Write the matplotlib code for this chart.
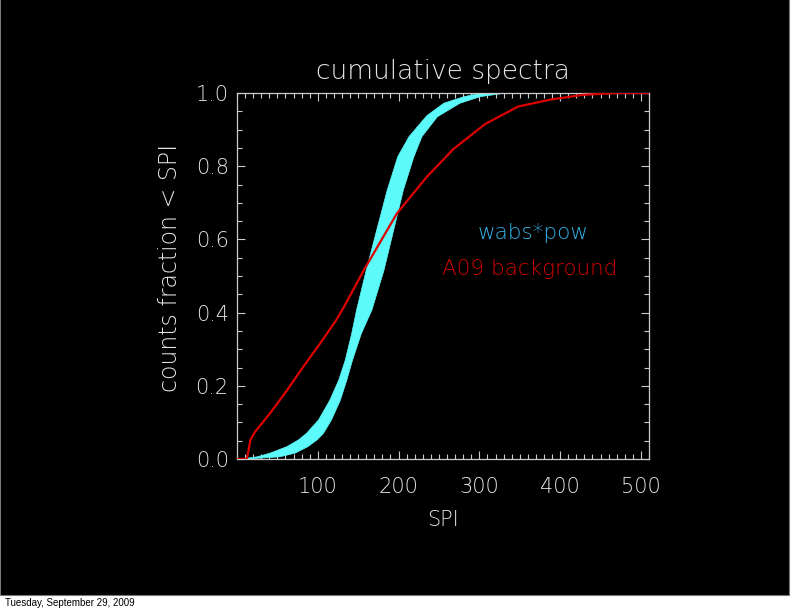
import matplotlib
matplotlib.use("Agg")
import matplotlib.pyplot as plt
from matplotlib.patches import Rectangle
from matplotlib.ticker import MultipleLocator, FixedLocator

# ---- data ----
band_left_x = [5, 25, 41, 62, 76, 86, 101, 115, 126, 134, 142, 148, 160, 173, 186, 199, 213, 235, 256, 281, 301, 510]
band_left_y = [0.0, 0.006, 0.016, 0.034, 0.052, 0.07, 0.107, 0.161, 0.216, 0.27, 0.343, 0.407, 0.516, 0.626, 0.735, 0.826, 0.881, 0.938, 0.972, 0.99, 0.999, 1.0]
band_right_x = [12, 53, 72, 88, 99, 107, 117, 128, 136, 143, 154, 167, 182, 194, 206, 219, 229, 248, 276, 301, 330, 510]
band_right_y = [0.0, 0.006, 0.016, 0.034, 0.052, 0.07, 0.107, 0.161, 0.216, 0.27, 0.343, 0.407, 0.516, 0.626, 0.735, 0.826, 0.881, 0.935, 0.972, 0.99, 0.999, 1.0]
bkg_x = [0, 12, 14, 16.5, 22.6, 41, 62, 82, 103, 123, 132.5, 157, 198, 235, 268, 307, 348, 388, 428, 470, 510]
bkg_y = [0.0, 0.0, 0.02, 0.052, 0.075, 0.125, 0.188, 0.252, 0.316, 0.38, 0.416, 0.516, 0.671, 0.771, 0.847, 0.915, 0.963, 0.982, 0.995, 1.0, 1.0]
x_ticks = [100, 200, 300, 400, 500]
y_ticks = [0.0, 0.2, 0.4, 0.6, 0.8, 1.0]

FG = "#e6e6e6"
CYAN = "#5cfafa"
RED = "#dd0000"
FONT = "DejaVu Sans"
W = "light"

fig = plt.figure(figsize=(7.92, 6.12), dpi=100)
fig.patch.set_facecolor("white")
fig.patches.append(Rectangle((0, 17 / 612), 789 / 792, 1, transform=fig.transFigure,
                             facecolor="black", edgecolor="#777777", lw=0.8, zorder=-10))

ax = fig.add_axes([237 / 792, 1 - 459 / 612, (649 - 237) / 792, (459 - 93) / 612])
ax.set_facecolor("black")

poly_x = band_left_x + band_right_x[::-1]
poly_y = band_left_y + band_right_y[::-1]
ax.fill(poly_x, poly_y, color=CYAN, lw=0.5, ec=CYAN, zorder=2)
ax.plot(bkg_x, bkg_y, color=RED, lw=1.6, zorder=3)

ax.set_xlim(0, 510)
ax.set_ylim(0, 1)
ax.xaxis.set_major_locator(FixedLocator(x_ticks))
ax.xaxis.set_minor_locator(MultipleLocator(10))
ax.yaxis.set_major_locator(FixedLocator(y_ticks))
ax.yaxis.set_minor_locator(MultipleLocator(0.05))
ax.set_xticklabels([str(v) for v in x_ticks])
ax.set_yticklabels([f"{v:.1f}" for v in y_ticks])

ax.tick_params(which="both", direction="in", top=True, right=True, colors="#cccccc")
ax.tick_params(which="major", length=6, width=0.8, labelsize=15, labelcolor=FG)
ax.tick_params(which="minor", length=3.6, width=0.8)
ax.tick_params(axis="x", which="major", pad=13)
ax.tick_params(axis="y", which="major", pad=6)
for lab in ax.get_xticklabels() + ax.get_yticklabels():
    lab.set_fontfamily(FONT)
    lab.set_fontweight(W)
for s in ax.spines.values():
    s.set_color("#cccccc")
    s.set_linewidth(0.9)

ax.set_title("cumulative spectra", color=FG, fontsize=19, family=FONT, weight=W, pad=10)
ax.set_xlabel("SPI", color=FG, fontsize=15, family=FONT, weight=W, labelpad=9)
ax.set_ylabel("counts fraction < SPI", color=FG, fontsize=17, family=FONT, weight=W)
ax.yaxis.set_label_coords(-0.133, 0.522)

ax.text(0.72, 0.617, "wabs*pow", transform=ax.transAxes, color="#35b4ea", fontsize=15.5,
        family=FONT, weight=W, ha="center", va="center")
ax.text(0.71, 0.52, "A09 background", transform=ax.transAxes, color="#d40000", fontsize=15.5,
        family=FONT, weight=W, ha="center", va="center")

fig.text(5 / 792, 1 - 603 / 612, "Tuesday, September 29, 2009", color="black", fontsize=7,
         family="Liberation Sans", ha="left", va="center")

fig.savefig("out.png", dpi=100, facecolor=fig.get_facecolor())
